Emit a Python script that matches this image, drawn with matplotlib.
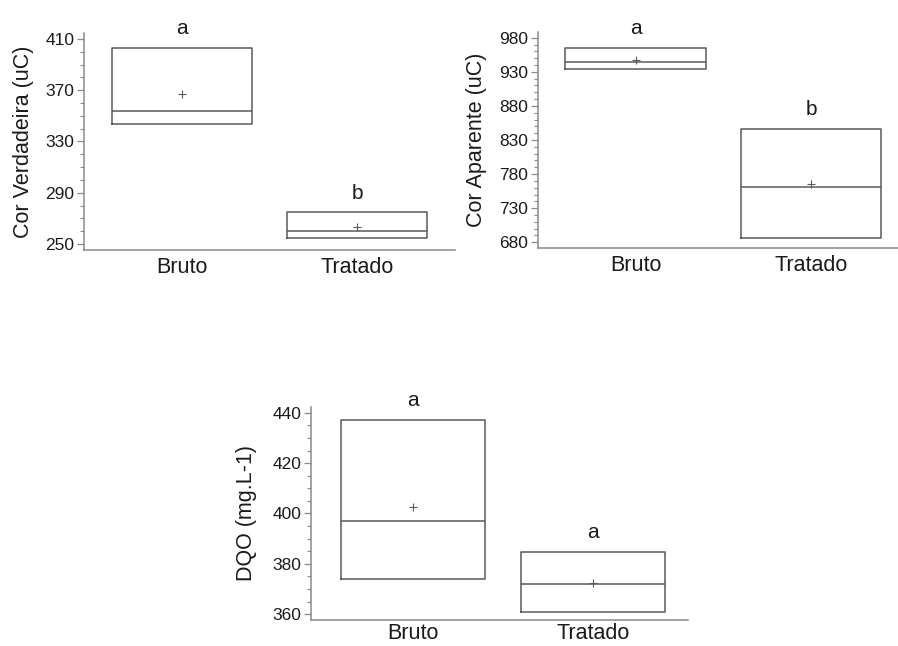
import matplotlib
matplotlib.use("Agg")
import matplotlib.pyplot as plt
from matplotlib.ticker import MultipleLocator

plt.rcParams['font.family'] = ['Liberation Sans', 'DejaVu Sans']

categories = ["Bruto", "Tratado"]

# Cor Verdadeira (uC)
cv_q1 = [343.6, 254.8]
cv_q3 = [403.2, 274.6]
cv_med = [353.8, 259.8]
cv_mean = [367.0, 263.4]
cv_letters = ["a", "b"]

# Cor Aparente (uC)
ca_q1 = [933.6, 685.9]
ca_q3 = [965.3, 845.7]
ca_med = [944.4, 761.5]
ca_mean = [947.8, 765.0]
ca_letters = ["a", "b"]

# DQO (mg.L-1)
dq_q1 = [374.0, 360.8]
dq_q3 = [437.1, 384.8]
dq_med = [397.0, 372.1]
dq_mean = [402.6, 372.5]
dq_letters = ["a", "a"]

W, H = 898, 646
fig = plt.figure(figsize=(W / 100, H / 100), dpi=100)

BOX_C = "#5a5a5a"
AX_C = "#8a8a8a"
TXT_C = "#1a1a1a"


def px_axes(left, right, top, bottom):
    return fig.add_axes([left / W, 1 - bottom / H, (right - left) / W, (bottom - top) / H])


def panel(ax, q1, q3, med, mean, letters, ylabel, ylim, xlim, major, offset, minor, labelpad, xpad):
    stats = []
    for i, c in enumerate(categories):
        stats.append(dict(label=c, q1=q1[i], q3=q3[i], med=med[i], mean=mean[i],
                          whislo=q1[i], whishi=q3[i]))
    ax.bxp(stats, positions=range(len(categories)), widths=0.8,
           showmeans=True, showfliers=False, showcaps=False,
           boxprops=dict(color=BOX_C, linewidth=1.1),
           medianprops=dict(color=BOX_C, linewidth=1.1),
           whiskerprops=dict(color=BOX_C, linewidth=0),
           meanprops=dict(marker='+', markeredgecolor=BOX_C, markersize=6,
                          markeredgewidth=0.8))
    for i, lt in enumerate(letters):
        ax.annotate(lt, xy=(i, q3[i]), xytext=(0, 10), textcoords='offset points',
                    ha='center', va='baseline', fontsize=15, color=TXT_C,
                    annotation_clip=False)
    ax.set_ylim(*ylim)
    ax.set_xlim(*xlim)
    ax.yaxis.set_major_locator(MultipleLocator(major, offset=offset))
    ax.yaxis.set_minor_locator(MultipleLocator(minor))
    for s in ("top", "right"):
        ax.spines[s].set_visible(False)
    for s in ("left", "bottom"):
        ax.spines[s].set_color(AX_C)
        ax.spines[s].set_linewidth(1.1)
    ax.tick_params(axis='y', which='major', length=5, width=0.9, color=AX_C,
                   labelsize=12.5, labelcolor=TXT_C, pad=2)
    ax.tick_params(axis='y', which='minor', length=3, width=0.8, color=AX_C)
    ax.tick_params(axis='x', length=0, labelsize=15.5, labelcolor=TXT_C, pad=xpad)
    ax.set_xticks(range(len(categories)))
    ax.set_xticklabels(categories)
    ax.set_ylabel(ylabel, fontsize=15.5, color=TXT_C, labelpad=labelpad)
    ax.patch.set_alpha(0)


ax1 = px_axes(84, 455, 33, 250)
panel(ax1, cv_q1, cv_q3, cv_med, cv_mean, cv_letters, "Cor Verdadeira (uC)",
      (245.3, 414.7), (-0.559, 1.557), 40, 10, 10, 8, 5)

ax2 = px_axes(538, 909, 32.3, 248)
panel(ax2, ca_q1, ca_q3, ca_med, ca_mean, ca_letters, "Cor Aparente (uC)",
      (671.6, 987.9), (-0.556, 1.557), 50, 30, 10, 9, 5)

ax3 = px_axes(311, 688, 406.7, 620)
panel(ax3, dq_q1, dq_q3, dq_med, dq_mean, dq_letters, "DQO (mg.L-1)",
      (357.7, 442.4), (-0.565, 1.527), 20, 0, 5, 11, 2.5)

fig.savefig("out.png", dpi=100)
